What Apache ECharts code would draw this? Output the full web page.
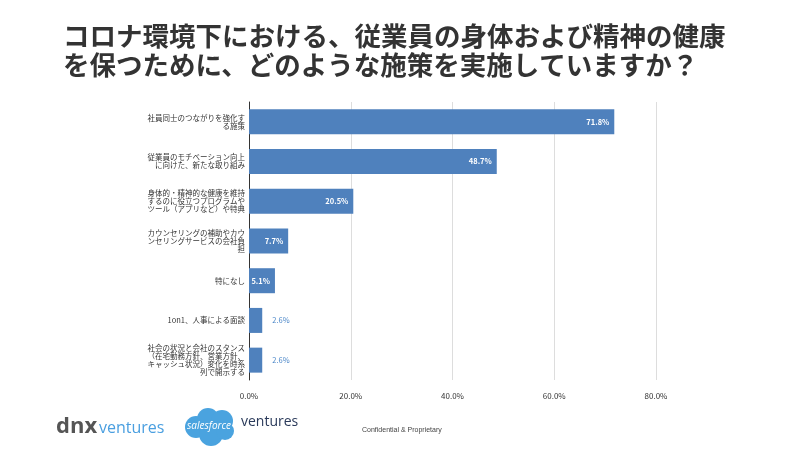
<!DOCTYPE html>
<html><head><meta charset="utf-8">
<script src="https://cdn.jsdelivr.net/npm/echarts@6/dist/echarts.min.js"></script>
<style>html,body{margin:0;padding:0;background:#fff}#c{width:800px;height:450px}</style>
</head><body><div id="c"></div>
<script>
const categories = [
  '社員同士のつながりを強化す\nる施策',
  '従業員のモチベーション向上\nに向けた、新たな取り組み',
  '身体的・精神的な健康を維持\nするのに役立つプログラムや\nツール（アプリなど）や特典',
  'カウンセリングの補助やカウ\nンセリングサービスの会社負\n担',
  '特になし',
  '1on1、人事による面談',
  '社会の状況と会社のスタンス\n（在宅勤務方針、営業方針、\nキャッシュ状況）変化を時系\n列で開示する'
];
const values = [71.8, 48.7, 20.5, 7.7, 5.1, 2.6, 2.6];
const xTicks = [0, 20, 40, 60, 80];
const titleLines = ['コロナ環境下における、従業員の身体および精神の健康', 'を保つために、どのような施策を実施していますか？'];

const chart = echarts.init(document.getElementById('c'));
const FONT = '"Noto Sans CJK JP", "Noto Sans", sans-serif';
chart.setOption({
  animation: false,
  textStyle: { fontFamily: FONT },
  title: {
    text: titleLines.join('\n'),
    left: 58, top: 16,
    textStyle: { fontSize: 26.5, fontWeight: 'bold', color: '#333', lineHeight: 29, fontFamily: FONT }
  },
  grid: { left: 249, right: 144, top: 102, bottom: 70, containLabel: false },
  xAxis: {
    type: 'value', min: 0, max: 80, interval: 20,
    axisLabel: { formatter: v => v.toFixed(1) + '%', fontSize: 8, color: '#333', margin: 12 },
    splitLine: { lineStyle: { color: '#ddd', width: 1 } },
    axisLine: { show: false }, axisTick: { show: false }
  },
  yAxis: {
    type: 'category', data: categories, inverse: true,
    axisLine: { show: true, lineStyle: { color: '#333', width: 1 } },
    axisTick: { show: false },
    axisLabel: { fontSize: 7.5, color: '#333', lineHeight: 8, align: 'right', margin: 4 }
  },
  series: [{
    type: 'bar', data: values.map(v => ({
      value: v,
      label: v < 5 ? { position: 'right', color: '#4a86c8', distance: 10, fontWeight: 'normal' } : {}
    })),
    barWidth: 25,
    itemStyle: { color: '#4f81bd' },
    label: { show: true, position: 'insideRight', color: '#fff', fontSize: 7.5, fontWeight: 'bold',
      formatter: p => p.value.toFixed(1) + '%' }
  }],
  graphic: [
    { type: 'text', left: 56, top: 416, style: { text: 'dnx', fontSize: 22, fontWeight: 'bold', fill: '#555', fontFamily: '"Open Sans", sans-serif' } },
    { type: 'text', left: 99, top: 420, style: { text: 'ventures', fontSize: 16, fill: '#4a9fe0', fontFamily: '"Open Sans", sans-serif' } },
    { type: 'group', left: 185, top: 408, children: [
      { type: 'circle', shape: { cx: 13, cy: 19, r: 11 }, style: { fill: '#4aa3df' } },
      { type: 'circle', shape: { cx: 25, cy: 11, r: 11 }, style: { fill: '#4aa3df' } },
      { type: 'circle', shape: { cx: 39, cy: 13, r: 11 }, style: { fill: '#4aa3df' } },
      { type: 'circle', shape: { cx: 28, cy: 26, r: 12 }, style: { fill: '#4aa3df' } },
      { type: 'circle', shape: { cx: 42, cy: 23, r: 9 }, style: { fill: '#4aa3df' } },
      { type: 'text', x: 4, y: 13, style: { text: 'salesforce', fontSize: 10, fill: '#fff', fontFamily: '"Open Sans", sans-serif', fontStyle: 'italic' } }
    ] },
    { type: 'text', left: 241, top: 415, style: { text: 'ventures', fontSize: 14, fill: '#2a3a5a', fontFamily: '"Open Sans", sans-serif' } },
    { type: 'text', left: 362, top: 427, style: { text: 'Confidential & Proprietary', fontSize: 7, fill: '#444', fontFamily: 'Arial, "Liberation Sans", sans-serif' } }
  ]
});
</script></body></html>
